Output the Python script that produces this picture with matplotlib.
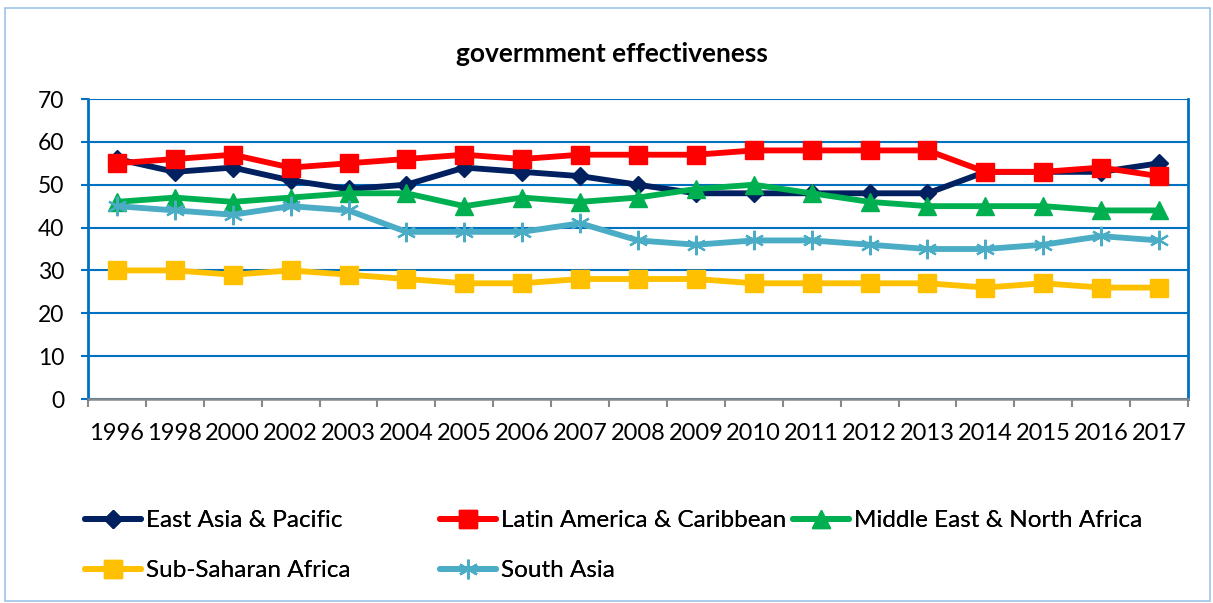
import numpy as np
import matplotlib
matplotlib.use("Agg")
import matplotlib.pyplot as plt
from matplotlib.patches import Rectangle

plt.rcParams['font.family'] = ['Lato', 'DejaVu Sans']

years = ['1996', '1998', '2000', '2002', '2003', '2004', '2005', '2006', '2007', '2008',
         '2009', '2010', '2011', '2012', '2013', '2014', '2015', '2016', '2017']

east_asia = [56, 53, 54, 51, 49, 50, 54, 53, 52, 50, 48, 48, 48, 48, 48, 53, 53, 53, 55]
latin_am = [55, 56, 57, 54, 55, 56, 57, 56, 57, 57, 57, 58, 58, 58, 58, 53, 53, 54, 52]
mena = [46, 47, 46, 47, 48, 48, 45, 47, 46, 47, 49, 50, 48, 46, 45, 45, 45, 44, 44]
ssa = [30, 30, 29, 30, 29, 28, 27, 27, 28, 28, 28, 27, 27, 27, 27, 26, 27, 26, 26]
south_asia = [45, 44, 43, 45, 44, 39, 39, 39, 41, 37, 36, 37, 37, 36, 35, 35, 36, 38, 37]

names = ['East Asia & Pacific', 'Latin America & Caribbean', 'Middle East & North Africa',
         'Sub-Saharan Africa', 'South Asia']
colors = ['#002060', '#FF0000', '#00B050', '#FFC000', '#4BACC6']
markers = ['D', 's', '^', 's', (6, 2, 0)]
msizes = [9.5, 13.5, 13, 13.5, 14]

blue = '#0070C0'
grey = '#898989'

fig = plt.figure(figsize=(12.13, 6.03), dpi=100)
fig.patches.append(Rectangle((5 / 1213, 2 / 603), 1205 / 1213, 593 / 603,
                             transform=fig.transFigure, fill=False,
                             edgecolor='#9DC3E6', linewidth=1.2))
ax = fig.add_axes([88 / 1213, 1 - 399 / 603, 1100 / 1213, 300 / 603])

x = np.arange(len(years))
handles = []
for vals, name, c, m, ms in zip([east_asia, latin_am, mena, ssa, south_asia],
                                names, colors, markers, msizes):
    mew = 1.6 if m == (6, 2, 0) else 1
    ln, = ax.plot(x, vals, color=c, lw=4.2, marker=m, markersize=ms,
                  markerfacecolor=c, markeredgecolor=c, markeredgewidth=mew,
                  solid_joinstyle='round', solid_capstyle='round', label=name)
    handles.append(ln)

ax.set_ylim(0, 70)
ax.set_yticks(range(0, 71, 10))
ax.set_xlim(-0.5, len(years) - 0.5)
ax.set_xticks(np.arange(-0.5, len(years), 1.0))
ax.set_xticklabels([])
ax.set_xticks(x, minor=True)
ax.set_xticklabels(years, minor=True)

ax.grid(axis='y', color=blue, lw=1.5)
ax.set_axisbelow(True)
for s in ['left', 'right']:
    ax.spines[s].set_color(blue)
    ax.spines[s].set_linewidth(2)
ax.spines['top'].set_visible(False)
ax.spines['bottom'].set_color(grey)
ax.spines['bottom'].set_linewidth(1.8)

ax.tick_params(axis='y', length=5, width=1.5, color=blue, pad=12, labelsize=16.5)
ax.tick_params(axis='x', which='major', length=6, width=1.5, color=grey)
ax.tick_params(axis='x', which='minor', length=0, pad=17, labelsize=17)

fig.text(0.5045, 0.911, 'govermment effectiveness', ha='center', va='center',
         fontsize=19, fontweight='bold')

# legend laid out in three fixed columns
cols = [([0, 3], 85), ([1, 4], 440), ([2], 793)]
for idx, xpix in cols:
    leg = fig.legend([handles[i] for i in idx], [names[i] for i in idx],
                     loc='upper left', bbox_to_anchor=(xpix / 1213, 1 - 510 / 603),
                     frameon=False, fontsize=17.5, handlelength=2.3, handletextpad=0.2,
                     labelspacing=1.2, borderpad=0, borderaxespad=0, numpoints=1)
    fig.add_artist(leg)

fig.savefig('out.png', dpi=100)
